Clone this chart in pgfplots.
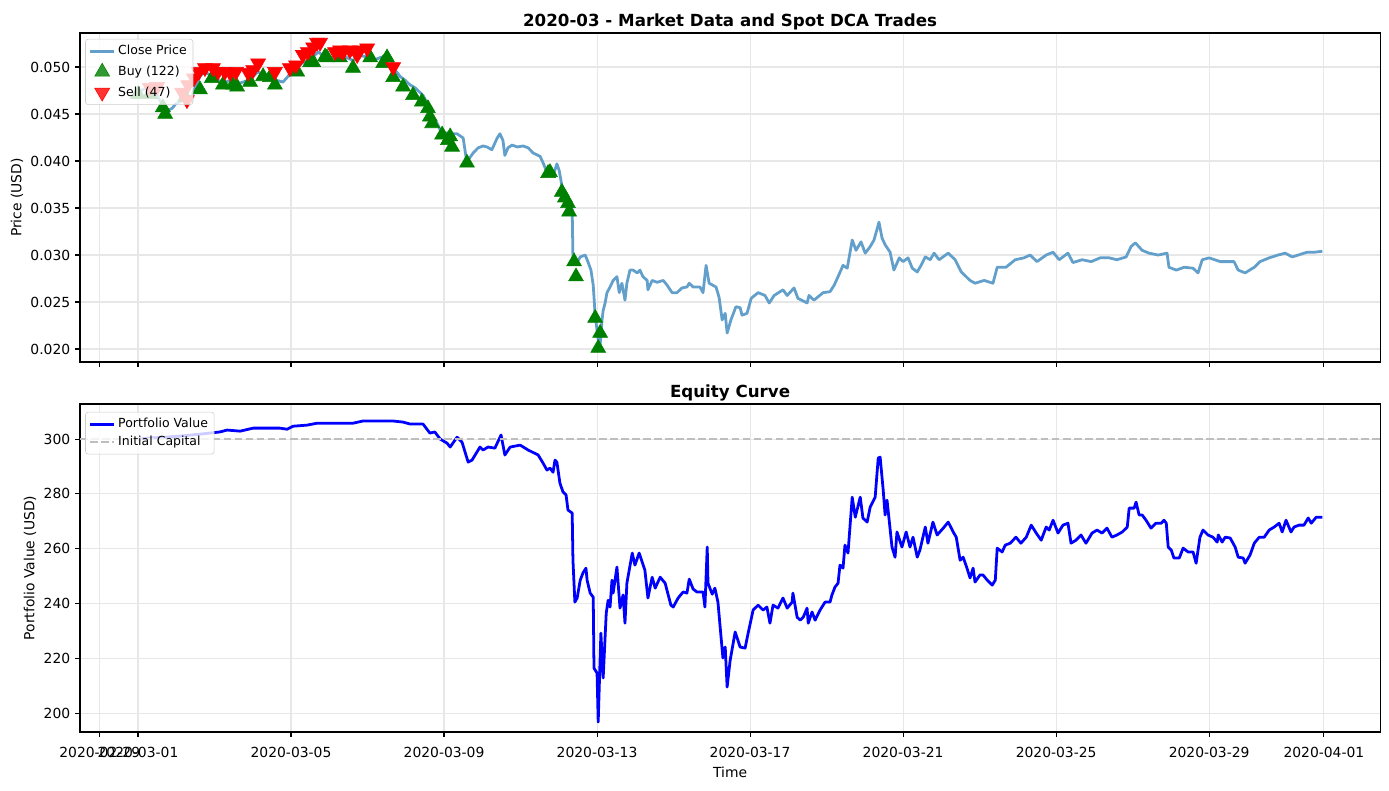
\documentclass[border=0pt]{standalone}
\usepackage{fontspec}
\setmainfont{DejaVu Sans}
\usepackage{pgfplots}
\usepackage{pgfplotstable}
\pgfplotsset{compat=1.18}
\definecolor{pricecol}{RGB}{98,160,203}
\definecolor{gridcol}{RGB}{231,231,231}
\definecolor{buycol}{RGB}{0,128,0}
\definecolor{sellcol}{RGB}{255,0,0}
\definecolor{capcol}{RGB}{190,190,190}
\definecolor{legframe}{RGB}{204,204,204}

\pgfplotstableread{
d P
0.00 0.0473
0.13 0.0476
0.26 0.0478
0.37 0.0473
0.50 0.0470
0.63 0.0460
0.71 0.0452
0.78 0.0454
0.89 0.0456
0.99 0.0461
1.10 0.0463
1.25 0.0467
1.41 0.0469
1.52 0.0481
1.62 0.0490
1.75 0.0495
1.93 0.0490
2.09 0.0486
2.25 0.0483
2.41 0.0486
2.59 0.0482
2.75 0.0484
2.88 0.0486
3.01 0.0490
3.14 0.0495
3.29 0.0490
3.45 0.0488
3.61 0.0486
3.79 0.0484
3.92 0.0490
4.05 0.0497
4.18 0.0500
4.31 0.0505
4.44 0.0507
4.58 0.0511
4.71 0.0516
4.81 0.0513
4.94 0.0512
5.10 0.0510
5.28 0.0511
5.46 0.0510
5.62 0.0507
5.80 0.0512
5.99 0.0511
6.14 0.0507
6.33 0.0510
6.46 0.0511
6.59 0.0510
6.72 0.0497
6.85 0.0490
6.98 0.0486
7.11 0.0481
7.24 0.0478
7.37 0.0473
7.45 0.0470
7.58 0.0460
7.71 0.0446
7.82 0.0440
7.90 0.0433
8.03 0.0430
8.16 0.0429
8.34 0.0429
8.50 0.04245
8.58 0.0403
8.63 0.0401
8.76 0.04085
8.89 0.0414
9.02 0.0416
9.12 0.0415
9.25 0.0412
9.39 0.04245
9.46 0.0429
9.54 0.0422
9.59 0.0406
9.67 0.0414
9.78 0.0417
9.91 0.0415
10.07 0.0416
10.20 0.0414
10.33 0.04085
10.51 0.0405
10.59 0.0398
10.69 0.0388
10.85 0.0384
10.95 0.0397
11.01 0.0390
11.08 0.0374
11.16 0.0366
11.24 0.0359
11.35 0.0348
11.37 0.0297
11.48 0.0292
11.56 0.0298
11.69 0.0300
11.76 0.0293
11.84 0.0284
11.90 0.0268
11.95 0.0236
12.03 0.0210
12.08 0.0204
12.13 0.0231
12.16 0.0241
12.21 0.0249
12.26 0.0260
12.34 0.0266
12.42 0.0273
12.52 0.0277
12.58 0.0260
12.65 0.0270
12.73 0.0252
12.78 0.0270
12.86 0.0284
12.94 0.0284
13.05 0.0281
13.12 0.0284
13.20 0.0277
13.31 0.0273
13.33 0.0263
13.44 0.0273
13.57 0.0271
13.73 0.0273
13.83 0.0268
13.96 0.0260
14.09 0.0260
14.22 0.0265
14.35 0.0266
14.41 0.0270
14.51 0.0266
14.69 0.0266
14.77 0.0260
14.85 0.0289
14.93 0.0270
15.11 0.0266
15.19 0.0255
15.27 0.0231
15.35 0.0238
15.40 0.0217
15.50 0.0231
15.63 0.0245
15.74 0.0244
15.79 0.0236
15.92 0.0238
16.03 0.0254
16.21 0.0260
16.39 0.0257
16.50 0.0249
16.63 0.0257
16.86 0.0263
16.97 0.0257
17.15 0.0265
17.25 0.0254
17.49 0.0249
17.54 0.0257
17.67 0.0252
17.91 0.0260
18.09 0.0261
18.20 0.0268
18.30 0.0277
18.43 0.0289
18.54 0.0286
18.67 0.0316
18.77 0.0305
18.90 0.0314
19.01 0.0302
19.14 0.0309
19.24 0.0316
19.37 0.0335
19.45 0.0318
19.53 0.0311
19.66 0.0303
19.76 0.0284
19.90 0.0297
20.00 0.0293
20.13 0.0297
20.24 0.0286
20.37 0.0282
20.47 0.0289
20.58 0.0298
20.71 0.0295
20.81 0.0302
20.94 0.0295
21.18 0.0302
21.36 0.0295
21.52 0.0282
21.75 0.0273
21.88 0.0270
22.12 0.0273
22.35 0.0270
22.46 0.0287
22.69 0.0287
22.93 0.0295
23.16 0.0297
23.32 0.0300
23.50 0.0293
23.74 0.0300
23.92 0.0303
24.08 0.0295
24.31 0.0302
24.44 0.0292
24.68 0.0295
24.92 0.0293
25.15 0.0297
25.39 0.0297
25.59 0.0295
25.83 0.0298
25.96 0.0309
26.07 0.0313
26.25 0.0305
26.43 0.0302
26.67 0.0300
26.90 0.0302
26.95 0.0287
27.14 0.0284
27.35 0.0287
27.58 0.0286
27.71 0.0281
27.82 0.0295
28.00 0.0297
28.29 0.0293
28.65 0.0293
28.76 0.0284
28.94 0.0281
29.18 0.0287
29.33 0.0293
29.57 0.0297
29.80 0.0300
29.99 0.0302
30.17 0.0298
30.33 0.0300
30.56 0.0303
30.75 0.0303
30.96 0.0304
}\pricetable

\pgfplotstableread{
d P
0.00 0.0471
0.31 0.0471
0.65 0.0457
0.71 0.0450
1.23 0.0468
1.62 0.0476
1.93 0.0488
2.22 0.0481
2.48 0.0481
2.59 0.0479
2.93 0.0484
3.27 0.0490
3.45 0.0489
3.58 0.0481
4.16 0.0495
4.50 0.0505
4.58 0.0505
4.89 0.0511
4.94 0.0510
5.28 0.0510
5.62 0.0499
6.07 0.0510
6.41 0.0504
6.51 0.0510
6.67 0.0489
6.93 0.0479
7.19 0.0470
7.42 0.0463
7.58 0.0456
7.63 0.0447
7.69 0.0440
7.95 0.0428
8.10 0.0422
8.16 0.0426
8.21 0.0415
8.60 0.0398
10.72 0.0387
10.77 0.0388
11.08 0.0367
11.16 0.0361
11.24 0.0355
11.27 0.0346
11.40 0.0293
11.45 0.0277
11.95 0.0233
12.03 0.0201
12.08 0.0217
}\buytable

\pgfplotstableread{
d P
0.31 0.0478
0.50 0.0479
1.15 0.0473
1.28 0.0465
1.31 0.0481
1.46 0.0488
1.59 0.0495
1.75 0.0499
1.96 0.0499
2.09 0.0495
2.27 0.0495
2.41 0.0494
2.56 0.0495
2.88 0.0494
3.01 0.0497
3.14 0.0504
3.58 0.0495
3.97 0.0499
4.13 0.0502
4.31 0.0513
4.44 0.0516
4.58 0.0521
4.68 0.0526
4.76 0.0526
5.15 0.0516
5.28 0.0518
5.36 0.0516
5.54 0.0518
5.73 0.0513
5.80 0.0518
5.99 0.0520
6.67 0.0500
}\selltable

\pgfplotstableread{
d E
0.00 300.0
0.31 300.4
0.71 300.7
1.10 301.1
1.62 301.8
2.14 302.6
2.33 303.3
2.67 302.9
3.01 304.0
3.37 304.0
3.71 304.0
3.90 303.6
4.05 304.7
4.42 305.1
4.68 305.8
5.10 305.8
5.46 305.8
5.62 305.8
5.88 306.6
6.33 306.6
6.67 306.6
6.93 306.2
7.11 305.5
7.45 305.5
7.63 302.2
7.76 302.6
7.90 300.0
8.08 298.5
8.16 297.1
8.34 300.7
8.47 298.9
8.63 291.6
8.73 292.3
8.94 297.1
9.02 296.0
9.15 297.1
9.33 296.7
9.49 301.5
9.59 294.2
9.73 297.1
9.99 297.8
10.20 296.0
10.46 294.2
10.59 291.2
10.69 288.7
10.77 289.4
10.85 287.9
10.90 292.3
10.95 291.6
11.03 283.9
11.11 280.7
11.19 279.6
11.24 274.1
11.35 273.0
11.37 255.8
11.42 240.5
11.48 242.0
11.56 248.5
11.63 251.1
11.71 252.9
11.74 248.5
11.82 243.8
11.90 242.3
11.92 216.4
12.00 214.6
12.03 196.7
12.10 229.2
12.16 212.8
12.24 236.5
12.29 241.2
12.34 238.7
12.39 248.5
12.42 243.8
12.52 253.3
12.60 238.3
12.68 243.1
12.73 232.8
12.78 247.4
12.92 258.4
12.99 254.0
13.10 258.4
13.25 252.2
13.33 242.0
13.44 249.6
13.52 245.6
13.65 249.6
13.78 247.4
13.93 239.4
13.99 238.7
14.12 242.0
14.25 244.2
14.35 243.8
14.41 248.9
14.51 245.3
14.61 244.2
14.77 244.2
14.82 238.7
14.88 260.6
14.90 247.4
15.01 243.4
15.08 245.6
15.16 240.5
15.29 220.1
15.35 224.1
15.40 209.5
15.48 219.3
15.61 229.6
15.74 224.1
15.87 223.7
15.95 229.2
16.08 237.6
16.21 239.4
16.34 237.6
16.44 238.7
16.52 232.8
16.60 239.4
16.73 238.3
16.86 242.0
16.97 238.3
17.10 240.5
17.12 243.8
17.23 235.0
17.31 233.9
17.39 235.0
17.49 238.3
17.52 232.8
17.62 236.9
17.70 233.9
17.83 237.6
17.96 240.5
18.09 240.5
18.14 243.1
18.22 246.0
18.30 247.4
18.35 254.0
18.43 252.9
18.48 261.3
18.56 258.4
18.67 278.8
18.75 271.5
18.88 278.8
18.95 271.2
19.06 269.7
19.14 275.2
19.27 278.8
19.35 293.1
19.40 293.4
19.48 281.4
19.53 272.3
19.58 277.7
19.63 271.2
19.71 260.6
19.79 256.9
19.84 266.1
19.97 260.6
20.08 266.1
20.18 260.6
20.26 264.2
20.37 256.9
20.44 259.5
20.58 267.9
20.65 262.0
20.78 269.7
20.89 265.0
21.05 267.5
21.18 269.7
21.31 266.1
21.39 264.2
21.49 255.8
21.57 256.9
21.67 252.9
21.75 249.3
21.83 252.9
21.88 247.8
22.01 250.4
22.09 250.4
22.20 248.5
22.33 246.7
22.41 248.5
22.46 260.2
22.59 258.8
22.67 261.3
22.80 262.0
22.95 264.2
23.08 262.0
23.22 264.2
23.35 268.6
23.48 265.7
23.61 263.1
23.74 267.9
23.82 266.8
23.92 270.4
24.05 265.7
24.18 268.6
24.31 269.3
24.39 262.0
24.52 263.1
24.65 265.0
24.78 262.0
24.94 265.7
25.07 266.8
25.20 265.7
25.33 267.5
25.46 264.2
25.59 265.0
25.73 266.1
25.86 267.9
25.91 274.8
26.04 274.8
26.09 277.0
26.17 272.3
26.25 272.3
26.35 270.4
26.48 267.5
26.61 269.3
26.75 269.3
26.82 270.4
26.88 269.3
26.93 260.6
27.01 259.5
27.08 256.6
27.22 256.6
27.32 260.2
27.45 258.8
27.58 258.8
27.66 254.7
27.76 264.2
27.84 266.8
27.97 265.0
28.10 264.2
28.21 262.4
28.24 265.0
28.34 262.4
28.42 264.2
28.55 263.9
28.68 260.6
28.76 256.9
28.89 256.6
28.94 254.7
29.07 257.7
29.18 262.0
29.31 264.2
29.44 264.2
29.57 266.8
29.70 267.9
29.83 269.3
29.91 266.1
30.01 270.4
30.14 266.1
30.22 267.9
30.35 268.6
30.48 268.6
30.59 271.2
30.67 269.3
30.80 271.5
30.96 271.5
}\equitytable

\pgfplotsset{
  mpl/.style={
    scale only axis,
    width=936pt,
    xmin=-1.516, xmax=32.47,
    xtick={-1,0,4,8,12,16,20,24,28,31},
    tick align=outside,
    tick pos=left,
    major tick length=3.5pt,
    scaled y ticks=false,
    axis line style={line width=0.8pt},
    major tick style={black, line width=0.8pt},
    grid=major,
    major grid style={gridcol, line width=0.8pt},
    tick label style={font=\fontsize{10}{12}\selectfont},
    xticklabel style={yshift=-4pt},
    label style={font=\fontsize{10}{12}\selectfont},
    title style={font=\bfseries\fontsize{12}{14}\selectfont, at={(0.5,1)}, anchor=base, yshift=-1pt},
    /pgf/number format/assume math mode=true,
    legend cell align=left,
    legend style={anchor=north west, draw=legframe, rounded corners=2pt,
      fill=white, fill opacity=0.8, text opacity=1, draw opacity=1,
      font=\fontsize{9}{11}\selectfont, inner sep=2.5pt},
  }
}

\begin{document}
\begin{tikzpicture}
\path[use as bounding box] (0,0) rectangle (1000pt,568.8pt);
\begin{axis}[mpl, at={(57.6pt,308.16pt)}, anchor=south west, height=236.88pt,
  ymin=0.01862, ymax=0.05362,
  ytick={0.020,0.025,0.030,0.035,0.040,0.045,0.050},
  yticklabels={0.020,0.025,0.030,0.035,0.040,0.045,0.050},
  xticklabels={},
  ylabel={Price (USD)},
  ylabel style={at={(axis description cs:-0.0485,0.5)}, anchor=center},
  title={2020-03 - Market Data and Spot DCA Trades},
  legend style={at={(0.004,0.982)}, row sep=2.5pt}]
\addplot[pricecol, line width=2pt, line join=round, no markers] table[x=d, y=P] {\pricetable};
\addlegendentry{Close Price}
\addplot[only marks, mark=triangle*, mark size=6.2pt, color=buycol] table[x=d, y=P] {\buytable};
\addlegendentry{Buy (122)}
\addplot[only marks, mark=triangle*, mark size=6.2pt, color=sellcol, every mark/.append style={rotate=180}] table[x=d, y=P] {\selltable};
\addlegendentry{Sell (47)}
\end{axis}
\begin{axis}[mpl, at={(57.6pt,41.76pt)}, anchor=south west, height=236.16pt,
  ymin=193.07, ymax=312.8,
  ytick={200,220,240,260,280,300},
  xticklabels={2020-02-29,2020-03-01,2020-03-05,2020-03-09,2020-03-13,2020-03-17,2020-03-21,2020-03-25,2020-03-29,2020-04-01},
  xlabel={Time},
  xlabel style={at={(axis description cs:0.5,-0.122)}, anchor=center},
  ylabel={Portfolio Value (USD)},
  ylabel style={at={(axis description cs:-0.0385,0.5)}, anchor=center},
  title={Equity Curve},
  legend style={at={(0.004,0.976)}, row sep=0.5pt}]
\addplot[blue, line width=2pt, line join=round, no markers] table[x=d, y=E] {\equitytable};
\addlegendentry{Portfolio Value}
\addplot[capcol, line width=1.5pt, dash pattern=on 5.55pt off 2.4pt, no markers] coordinates {(-1.516,300) (32.47,300)};
\addlegendentry{Initial Capital}
\end{axis}
\end{tikzpicture}
\end{document}
